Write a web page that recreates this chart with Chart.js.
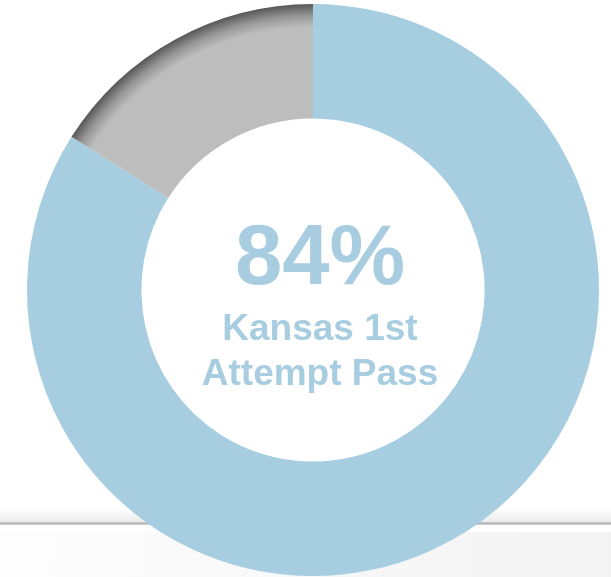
<!DOCTYPE html>
<html>
<head>
<meta charset="utf-8">
<script src="https://cdn.jsdelivr.net/npm/chart.js@4.4.1/dist/chart.umd.min.js"></script>
<style>
  html, body { margin: 0; padding: 0; background: #fff; }
  #wrap { position: relative; width: 611px; height: 577px; overflow: hidden; }
  /* slide footer strip behind the ring */
  .shade { position: absolute; left: 0; right: 0; top: 508px; height: 14px;
           background: linear-gradient(#fff, #ececec); }
  .rule { position: absolute; left: 0; right: 0; top: 522px; height: 3px;
          background: linear-gradient(#c9c9c9, #b8b8b8, #d6d6d6); }
  .foot { position: absolute; left: 0; right: 0; top: 532px; bottom: 0;
          background: linear-gradient(100deg, #fdfdfd, #f3f3f3); }
  canvas { position: absolute; left: 0; top: 0; }
  .center { position: absolute; left: 0; width: 640px; text-align: center;
            font-family: 'Liberation Sans', Arial, sans-serif; font-weight: bold;
            color: #a8cde1; }
  #big { top: 205px; font-size: 85px; line-height: 100px; }
  #sub { top: 305px; font-size: 37px; line-height: 45px; }
</style>
</head>
<body>
<div id="wrap">
  <div class="shade"></div>
  <div class="rule"></div>
  <div class="foot"></div>
  <canvas id="c" width="611" height="577"></canvas>
  <div class="center" id="big"></div>
  <div class="center" id="sub"></div>
</div>
<script>
// Segmentler: ilk deneme geçen / geçemeyen
const labels = ['Pass', 'Not Pass'];
const values = [84, 16];
const colors = ['#a7cde1', '#bdbdbd'];
const centerValue = '84%';
const centerLines = ['Kansas 1st', 'Attempt Pass'];
const CUTOUT = 0.6;

document.getElementById('big').textContent = centerValue;
document.getElementById('sub').innerHTML = centerLines.join('<br>');

// gri dilimin dış kenarında koyu gölge (chartArea'dan hesaplanır)
function greyFill(ctx) {
  const area = ctx.chart.chartArea;
  if (!area) return colors[1];
  const cx = (area.left + area.right) / 2;
  const cy = (area.top + area.bottom) / 2;
  const r = Math.min(area.right - area.left, area.bottom - area.top) / 2;
  const g = ctx.chart.ctx.createRadialGradient(cx, cy, r * CUTOUT, cx, cy, r);
  g.addColorStop(0, '#bdbdbd');
  g.addColorStop(0.80, '#bdbdbd');
  g.addColorStop(0.90, '#959595');
  g.addColorStop(1, '#575757');
  return g;
}

new Chart(document.getElementById('c'), {
  type: 'doughnut',
  data: {
    labels: labels,
    datasets: [{
      data: values,
      backgroundColor: (ctx) => ctx.dataIndex === 1 ? greyFill(ctx) : colors[0],
      borderWidth: 0,
    }],
  },
  options: {
    responsive: false,
    animation: false,
    cutout: (CUTOUT * 100) + '%',
    layout: { padding: { left: 27, right: 12, top: 4, bottom: 1 } },
    plugins: { legend: { display: false }, tooltip: { enabled: false } },
  },
});
</script>
</body>
</html>
